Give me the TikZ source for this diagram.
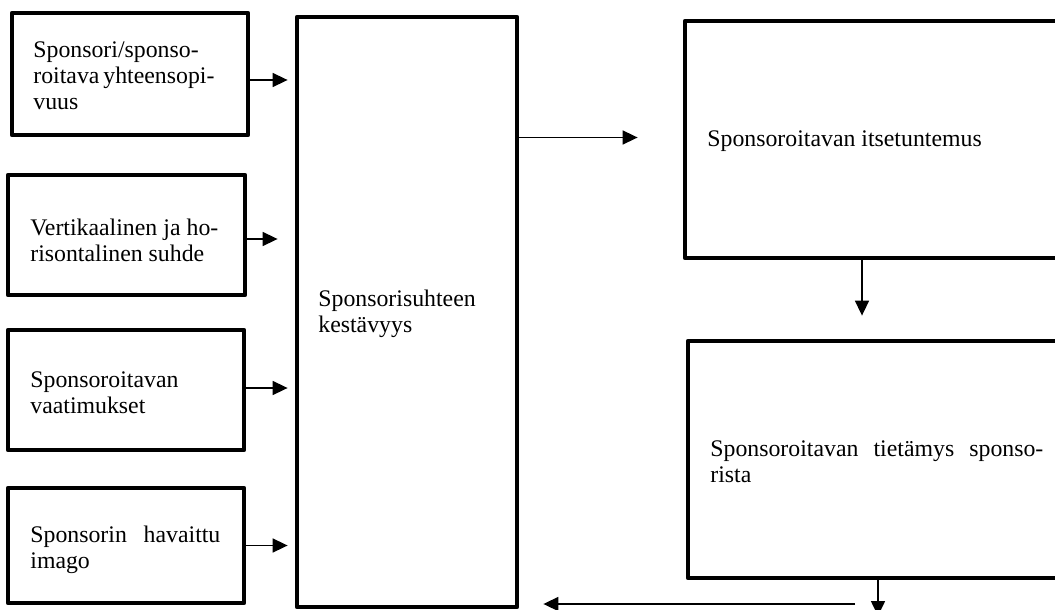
\documentclass[tikz,border=0pt]{standalone}
\usepackage{fontspec}
\setmainfont{Liberation Serif}
\usetikzlibrary{arrows.meta}
% one line of justified text, spread to a given width
\newcommand\jl[2]{\makebox[#1][s]{#2}}
\begin{document}
\begin{tikzpicture}[x=0.5pt,y=-0.5pt,
  box/.style={draw,line width=2.4pt,line join=round,inner sep=0pt},
  txt/.style={inner sep=0pt,anchor=west,align=left,font=\fontsize{11.9}{13}\selectfont},
  arr/.style={line width=0.8pt,-{Triangle[length=7.5pt,width=7pt]}}]
\clip (0,0) rectangle (1055,610);
\fill[white] (0,0) rectangle (1055,610);

% input factors
\node[box,minimum width=118pt,minimum height=61pt] (b1) at (130,74) {};
\node[box,minimum width=118.5pt,minimum height=60pt] (b2) at (126.5,235) {};
\node[box,minimum width=118pt,minimum height=60pt] (b3) at (126,390) {};
\node[box,minimum width=118pt,minimum height=57.5pt] (b4) at (126,545.5) {};
% central box
\node[box,minimum width=110pt,minimum height=295pt] (c) at (407,312) {};
% outcome boxes on the right
\node[box,minimum width=195pt,minimum height=118.5pt] (r1) at (880,139.5) {};
\node[box,minimum width=193.5pt,minimum height=118.5pt] (r2) at (881.5,459.5) {};

% labels
\node[txt] (t1) at (33,76) {\jl{85pt}{Sponsori/sponso-}\\\jl{85pt}{roitava yhteensopi-}\\vuus};
\node[txt] (t2) at (30,240) {\jl{94pt}{Vertikaalinen ja ho-}\\risontalinen suhde};
\node[txt] (t3) at (30,393) {Sponsoroitavan\\vaatimukset};
\node[txt] (t4) at (30,550) {\jl{95pt}{Sponsorin havaittu}\\imago};
\node[txt] (tc) at (318,314) {Sponsorisuhteen\\kestävyys};
\node[txt] (tr1) at (707,141) {Sponsoroitavan itsetuntemus};
\node[txt] (tr2) at (710,462) {\jl{166.5pt}{Sponsoroitavan tietämys sponso-}\\rista};

% connectors
\draw[arr,shorten >=3.5pt] ([yshift=-3pt]b1.east) -- ([yshift=-3pt]b1.east -| c.west);
\draw[arr,shorten >=8.5pt] ([yshift=-2pt]b2.east) -- ([yshift=-2pt]b2.east -| c.west);
\draw[arr,shorten >=3.5pt] ([yshift=1pt]b3.east) -- ([yshift=1pt]b3.east -| c.west);
\draw[arr,shorten >=3.5pt] (b4.east) -- (b4.east -| c.west);
\draw[arr,shorten >=22.5pt] ([yshift=1pt]c.east |- r1.west) -- ([yshift=1pt]r1.west);
\draw[arr,shorten >=11.5pt] ([xshift=-9pt]r1.south) -- ([xshift=-9pt]r1.south |- r2.north);
\coordinate (down) at (878,616);
\draw[arr] ([xshift=-1.75pt]r2.south) -- (down);
\coordinate (ret) at (855,604);
\draw[arr,shorten >=12pt] (ret) -- (ret -| c.east);
\end{tikzpicture}
\end{document}
